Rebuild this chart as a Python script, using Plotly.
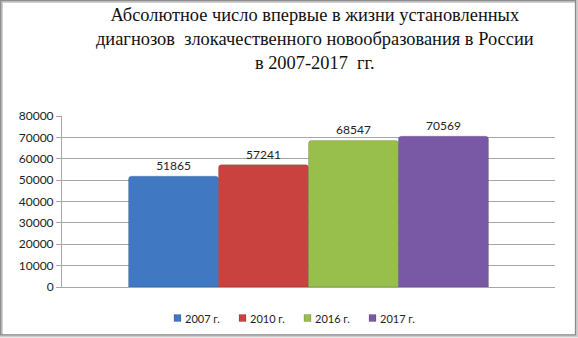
import plotly.graph_objects as go

# Newly diagnosed malignant neoplasm cases in Russia
years = ["2007 г.", "2010 г.", "2016 г.", "2017 г."]
cases = [51865, 57241, 68547, 70569]
colors = ["#4079C2", "#C9423F", "#98BF4C", "#7959A5"]
y_ticks = [0, 10000, 20000, 30000, 40000, 50000, 60000, 70000, 80000]

title_text = ("Абсолютное число впервые в жизни установленных<br>"
              "диагнозов  злокачественного новообразования в России<br>"
              "в 2007-2017  гг.")

W, H = 578, 338
L, R, T, B = 62, 23, 116, 51
PW, PH = W - L - R, H - T - B


def px_x(x):
    return (x - L) / PW


def px_y(y):
    return (H - B - y) / PH


fig = go.Figure()
for name, val, col in zip(years, cases, colors):
    fig.add_trace(go.Bar(
        x=[""], y=[val], name=name, showlegend=False,
        marker=dict(color=col, line=dict(width=0.6, color="rgba(0,0,0,0.25)")),
        text=[str(val)], textposition="outside", cliponaxis=False,
        textfont=dict(family="Lato, Carlito, sans-serif", size=12, color="#222"),
    ))

fig.update_layout(
    width=W, height=H,
    margin=dict(l=L, r=R, t=T, b=B, autoexpand=False),
    paper_bgcolor="white", plot_bgcolor="white",
    barmode="group", bargap=0.27, bargroupgap=0, barcornerradius=3,
)
fig.update_yaxes(
    range=[0, 80000], tickvals=y_ticks, ticktext=[str(v) for v in y_ticks],
    showgrid=True, gridcolor="#A6A6A6", gridwidth=1,
    showline=True, linecolor="#A6A6A6", linewidth=1,
    ticks="outside", ticklen=5, tickcolor="#A6A6A6",
    tickfont=dict(family="Lato, Carlito, sans-serif", size=12, color="#222"),
    zeroline=False,
)
fig.update_xaxes(showticklabels=False, showline=True, linecolor="#A6A6A6",
                 linewidth=1, ticks="")

fig.add_annotation(
    text=title_text, xref="paper", yref="paper",
    x=px_x(315), y=px_y(3), xanchor="center", yanchor="top",
    showarrow=False, align="center",
    font=dict(family="Liberation Serif, Times New Roman, serif", size=18.4, color="#111"),
)

# compact legend row under the plot: small swatch followed by the year
leg_y, leg_x0, leg_step = 318, 174, 65
for i, (name, col) in enumerate(zip(years, colors)):
    x0 = leg_x0 + i * leg_step
    fig.add_shape(type="rect", xref="paper", yref="paper",
                  x0=px_x(x0), x1=px_x(x0 + 7), y0=px_y(leg_y + 3.5), y1=px_y(leg_y - 3.5),
                  fillcolor=col, line=dict(color="rgba(0,0,0,0.25)", width=0.6))
    fig.add_annotation(text=name, xref="paper", yref="paper",
                       x=px_x(x0 + 8.5), y=px_y(leg_y), xanchor="left", yanchor="middle",
                       showarrow=False,
                       font=dict(family="Lato, Carlito, sans-serif", size=11, color="#222"))

# chart frame with a light drop shadow
fig.add_shape(type="rect", xref="paper", yref="paper",
              x0=px_x(1.5), x1=px_x(576.5), y0=px_y(336), y1=px_y(1.5),
              line=dict(color="#CFCFCF", width=3), layer="below")
fig.add_shape(type="rect", xref="paper", yref="paper",
              x0=px_x(0.7), x1=px_x(575.5), y0=px_y(334.8), y1=px_y(0.7),
              line=dict(color="#8C8C8C", width=1.3), layer="below")

fig.write_html("out.html")
